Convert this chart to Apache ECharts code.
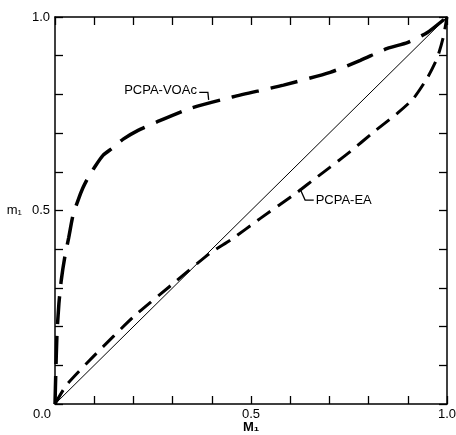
<!DOCTYPE html>
<html>
<head>
<meta charset="utf-8">
<script src="https://cdn.jsdelivr.net/npm/echarts@6/dist/echarts.min.js"></script>
<style>
  html, body { margin: 0; padding: 0; background: #fff; }
  #chart { width: 456px; height: 435px; }
</style>
</head>
<body>
<div id="chart"></div>
<script>
// PCPA-VOAc (long dashes)
const voacX = [0, 0.002, 0.005, 0.01, 0.016, 0.025, 0.035, 0.046, 0.059, 0.071, 0.084, 0.103, 0.123, 0.146, 0.175, 0.212, 0.26, 0.345, 0.455, 0.583, 0.702, 0.779, 0.848, 0.899, 0.95, 1];
const voacY = [0, 0.08, 0.18, 0.26, 0.32, 0.38, 0.43, 0.488, 0.527, 0.558, 0.584, 0.615, 0.643, 0.661, 0.685, 0.707, 0.729, 0.764, 0.794, 0.824, 0.857, 0.888, 0.919, 0.934, 0.96, 1];
// PCPA-EA (short dashes)
const eaX = [0, 0.03, 0.1, 0.2, 0.3, 0.396, 0.45, 0.523, 0.618, 0.66, 0.702, 0.753, 0.812, 0.873, 0.914, 0.95, 0.975, 0.99, 1];
const eaY = [0, 0.05, 0.125, 0.225, 0.31, 0.39, 0.425, 0.479, 0.547, 0.58, 0.612, 0.652, 0.702, 0.751, 0.789, 0.843, 0.894, 0.946, 1];
// reference diagonal
const diagX = [0, 1];
const diagY = [0, 1];

const tickLabels = ["0.0", "0.5", "1.0"];

// annotation anchors (data coords): text position and leader points
const voacNote = { text: "PCPA-VOAc", at: [0.362, 0.81], leader: [[0.368, 0.805], [0.39, 0.805], [0.392, 0.786]] };
const eaNote = { text: "PCPA-EA", at: [0.665, 0.527], leader: [[0.625, 0.556], [0.638, 0.527], [0.66, 0.527]] };

function pairs(xs, ys) {
  return xs.map((x, i) => [x, ys[i]]);
}

function fmt(v) {
  const s = v.toFixed(1);
  return tickLabels.indexOf(s) >= 0 ? s : "";
}

const font = "Liberation Sans";
const axisLine = { show: true, onZero: false, lineStyle: { color: "#000", width: 1.5 } };
const axisTick = { show: true, inside: true, length: 8, lineStyle: { color: "#000", width: 1.3 } };

const option = {
  backgroundColor: "#fff",
  animation: false,
  grid: { left: 55, right: 9, top: 17, bottom: 31, containLabel: false, outerBoundsMode: "none" },
  xAxis: [
    {
      type: "value", min: 0, max: 1, interval: 0.1,
      name: "M\u2081", nameLocation: "middle", nameGap: 17, nameMoveOverlap: false,
      nameTextStyle: { fontFamily: font, fontSize: 13, color: "#000", fontWeight: "bold" },
      axisLine: axisLine, axisTick: axisTick, splitLine: { show: false },
      axisLabel: {
        margin: 4, fontFamily: font, fontSize: 13, color: "#000",
        formatter: function (v) {
          if (v === 0) return "{l|0.0}";
          return fmt(v);
        },
        rich: { l: { fontFamily: font, fontSize: 13, color: "#000", padding: [0, 26, 0, 0] } }
      }
    },
    {
      type: "value", position: "top", min: 0, max: 1, interval: 0.1,
      axisLine: axisLine, axisTick: axisTick, axisLabel: { show: false }, splitLine: { show: false }
    }
  ],
  yAxis: [
    {
      type: "value", min: 0, max: 1, interval: 0.1,
      name: "m\u2081", nameLocation: "middle", nameRotate: 0, nameGap: 33, nameMoveOverlap: false,
      nameTextStyle: { fontFamily: font, fontSize: 13, color: "#000" },
      axisLine: axisLine, axisTick: axisTick, splitLine: { show: false },
      axisLabel: {
        margin: 5, fontFamily: font, fontSize: 13, color: "#000",
        formatter: function (v) { return v === 0 ? "" : fmt(v); }
      }
    },
    {
      type: "value", position: "right", min: 0, max: 1, interval: 0.1,
      axisLine: axisLine, axisTick: axisTick, axisLabel: { show: false }, splitLine: { show: false }
    }
  ],
  series: [
    {
      name: "diagonal", type: "line", data: pairs(diagX, diagY),
      showSymbol: false, lineStyle: { color: "#000", width: 1 }
    },
    {
      name: "PCPA-VOAc", type: "line", data: pairs(voacX, voacY),
      showSymbol: false, smooth: 0.2,
      lineStyle: { color: "#000", width: 3.5, type: [28, 12] }
    },
    {
      name: "PCPA-EA", type: "line", data: pairs(eaX, eaY),
      showSymbol: false, smooth: 0.2,
      lineStyle: { color: "#000", width: 3, type: [16, 9] }
    }
  ]
};

const chart = echarts.init(document.getElementById("chart"));
chart.setOption(option);

function noteGraphics(note, align) {
  const p = chart.convertToPixel({ gridIndex: 0 }, note.at);
  const pts = note.leader.map(d => chart.convertToPixel({ gridIndex: 0 }, d));
  return [
    {
      type: "text",
      x: p[0], y: p[1],
      style: { text: note.text, font: "13px 'Liberation Sans'", fill: "#000", align: align, verticalAlign: "middle" }
    },
    {
      type: "polyline",
      shape: { points: pts },
      style: { stroke: "#000", lineWidth: 1.3, fill: null }
    }
  ];
}

chart.setOption({
  graphic: noteGraphics(voacNote, "right").concat(noteGraphics(eaNote, "left"))
});
</script>
</body>
</html>
